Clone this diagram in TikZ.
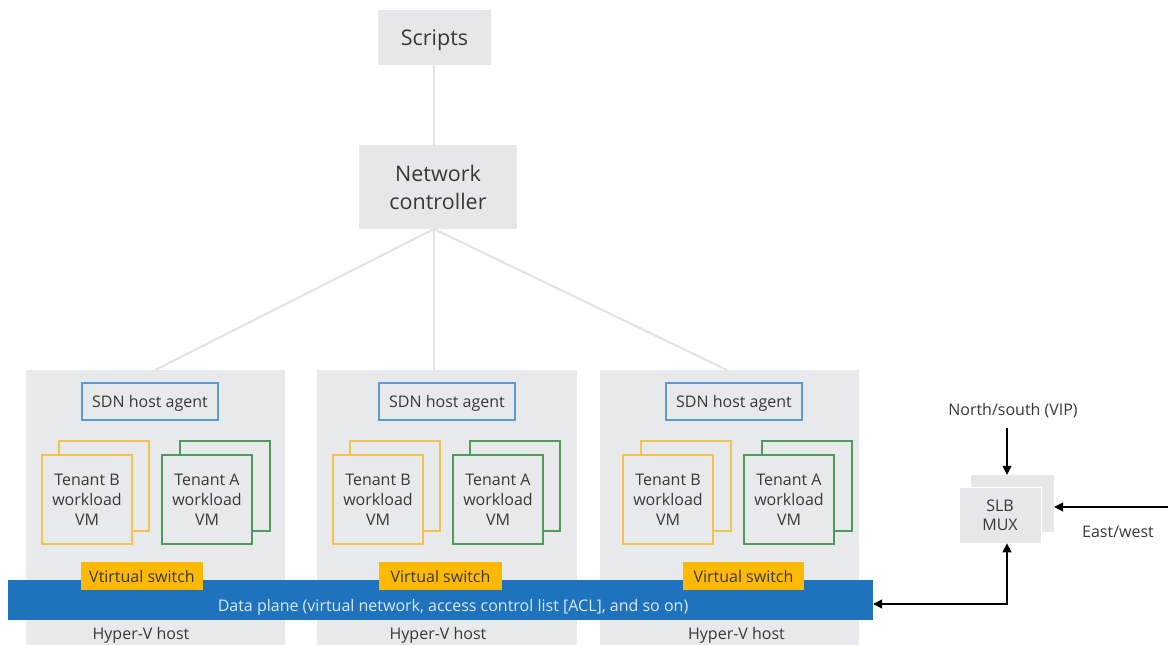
\documentclass[tikz,border=0pt]{standalone}
\usepackage{fontspec}
\setmainfont{Open Sans}
\usetikzlibrary{arrows.meta}
\definecolor{boxgray}{HTML}{E6E7E8}
\definecolor{hostgray}{HTML}{E8E9EA}
\definecolor{linegray}{HTML}{E2E2E2}
\definecolor{agentblue}{HTML}{5B9BD5}
\definecolor{vmyellow}{HTML}{F2C24E}
\definecolor{vmgreen}{HTML}{4E9A5A}
\definecolor{switchorange}{HTML}{FFB900}
\definecolor{barblue}{HTML}{1F73BD}
\definecolor{bartext}{HTML}{DCE8F4}
\definecolor{txt}{HTML}{383838}
\begin{document}
\begin{tikzpicture}[x=1pt,y=-1pt,
  graybox/.style={fill=boxgray, draw=none, inner sep=0pt, align=center, text=txt, text depth=0pt},
  hostbox/.style={fill=hostgray, draw=none, inner sep=0pt, minimum width=259pt, minimum height=275pt},
  agentbox/.style={fill=hostgray, draw=agentblue, line width=1.3pt, inner sep=0pt, minimum width=136pt, minimum height=37pt, text=txt, text depth=0pt, font=\fontsize{16}{20}\selectfont},
  vmbox/.style={fill=hostgray, line width=1.3pt, inner sep=0pt, minimum width=90pt, align=center, text=txt, text depth=0pt, font=\fontsize{16}{20}\selectfont},
  vmfront/.style={minimum height=89pt},
  vmback/.style={minimum height=90pt},
  vmb/.style={vmbox, draw=vmyellow},
  vma/.style={vmbox, draw=vmgreen},
  switchbox/.style={fill=switchorange, inner sep=0pt, minimum height=28pt, text=txt, text depth=0pt, font=\fontsize{16}{20}\selectfont},
  lbl/.style={text=txt, inner sep=0pt, font=\fontsize{16}{20}\selectfont},
  link/.style={draw=linegray, line width=2pt},
  arr/.style={draw=black, line width=1.2pt, -{Triangle[length=9pt,width=9pt]}},
  darr/.style={draw=black, line width=1.2pt, {Triangle[length=9pt,width=9pt]}-{Triangle[length=9pt,width=9pt]}}
]
\useasboundingbox[fill=white] (0,0) rectangle (1168,645);

% top boxes
\node[graybox, minimum width=113pt, minimum height=55pt, font=\fontsize{21.5}{28}\selectfont] (scripts) at (434.5,37.5) {Scripts};
\node[graybox, minimum width=158pt, minimum height=84pt, font=\fontsize{21.5}{28}\selectfont] (nc) at (438,187) {Network\\controller};
\coordinate (ncb) at (434,229);
\coordinate (nct) at (434,145);

% hosts
\node[hostbox] (h1) at (155.5,507.5) {};
\node[hostbox, minimum width=260pt] (h2) at (447,507.5) {};
\node[hostbox] (h3) at (729.5,507.5) {};

% links
\draw[link] (scripts.south -| nct) -- (nct);
\draw[link] (ncb) -- (h1.north);
\draw[link] (ncb) -- (ncb |- h2.north);
\draw[link] (ncb) -- (727,370);

% SDN agents
\node[agentbox] (a1) at (150,401.5) {SDN host agent};
\node[agentbox] (a2) at (447,401.5) {SDN host agent};
\node[agentbox] (a3) at (734,401.5) {SDN host agent};

% VMs host 1
\node[vmb, vmback] (b1back) at (104,486) {};
\node[vmb, vmfront] (b1) at (87,499.5) {Tenant B\\workload\\VM};
\node[vma, vmback] (t1back) at (225,486) {};
\node[vma, vmfront] (t1) at (207,499.5) {Tenant A\\workload\\VM};
% VMs host 2
\node[vmb, vmback] (b2back) at (395,486) {};
\node[vmb, vmfront] (b2) at (378,499.5) {Tenant B\\workload\\VM};
\node[vma, vmback] (t2back) at (515,486) {};
\node[vma, vmfront] (t2) at (498,499.5) {Tenant A\\workload\\VM};
% VMs host 3
\node[vmb, vmback] (b3back) at (686,486) {};
\node[vmb, vmfront] (b3) at (668,499.5) {Tenant B\\workload\\VM};
\node[vma, vmback] (t3back) at (807,486) {};
\node[vma, vmfront] (t3) at (789,499.5) {Tenant A\\workload\\VM};

% data plane
\node[fill=barblue, inner sep=0pt, minimum width=865pt, minimum height=40pt] (bar) at (440.5,600) {};
\node[text=bartext, inner sep=0pt, font=\fontsize{16}{20}\selectfont, anchor=base] (bartxt) at (453,611) {Data plane (virtual network, access control list [ACL], and so on)};

% switches
\node[switchbox, minimum width=122pt] (s1) at (142,576) {Vtirtual switch};
\node[switchbox, minimum width=123pt] (s2) at (440.5,576) {Virtual switch};
\node[switchbox, minimum width=121pt] (s3) at (743.5,576) {Virtual switch};

% host labels
\node[lbl, anchor=base] (l1) at (141,639) {Hyper-V host};
\node[lbl, anchor=base] (l2) at (438,639) {Hyper-V host};
\node[lbl, anchor=base] (l3) at (736.5,639) {Hyper-V host};

% SLB MUX
\node[graybox, minimum width=83pt, minimum height=57pt] (muxb) at (1012.5,503.5) {};
\node[graybox, draw=white, line width=0.8pt, minimum width=82pt, minimum height=56pt, font=\fontsize{16}{19}\selectfont] (muxf) at (1000,515) {SLB\\MUX};

\node[lbl, anchor=base] (ns) at (1013,415) {North/south (VIP)};
\node[lbl, anchor=base] (ew) at (1118,537) {East/west};

\coordinate (nsstart) at (1007,428);
\coordinate (ewstart) at (1168,507);
\coordinate (corner) at (1007,604);

\draw[arr] (nsstart) -- (nsstart |- muxb.north);
\draw[arr] (ewstart) -- (ewstart -| muxb.east);
\draw[darr] (corner |- muxf.south) -- (corner) -- (corner -| bar.east);
\end{tikzpicture}
\end{document}
